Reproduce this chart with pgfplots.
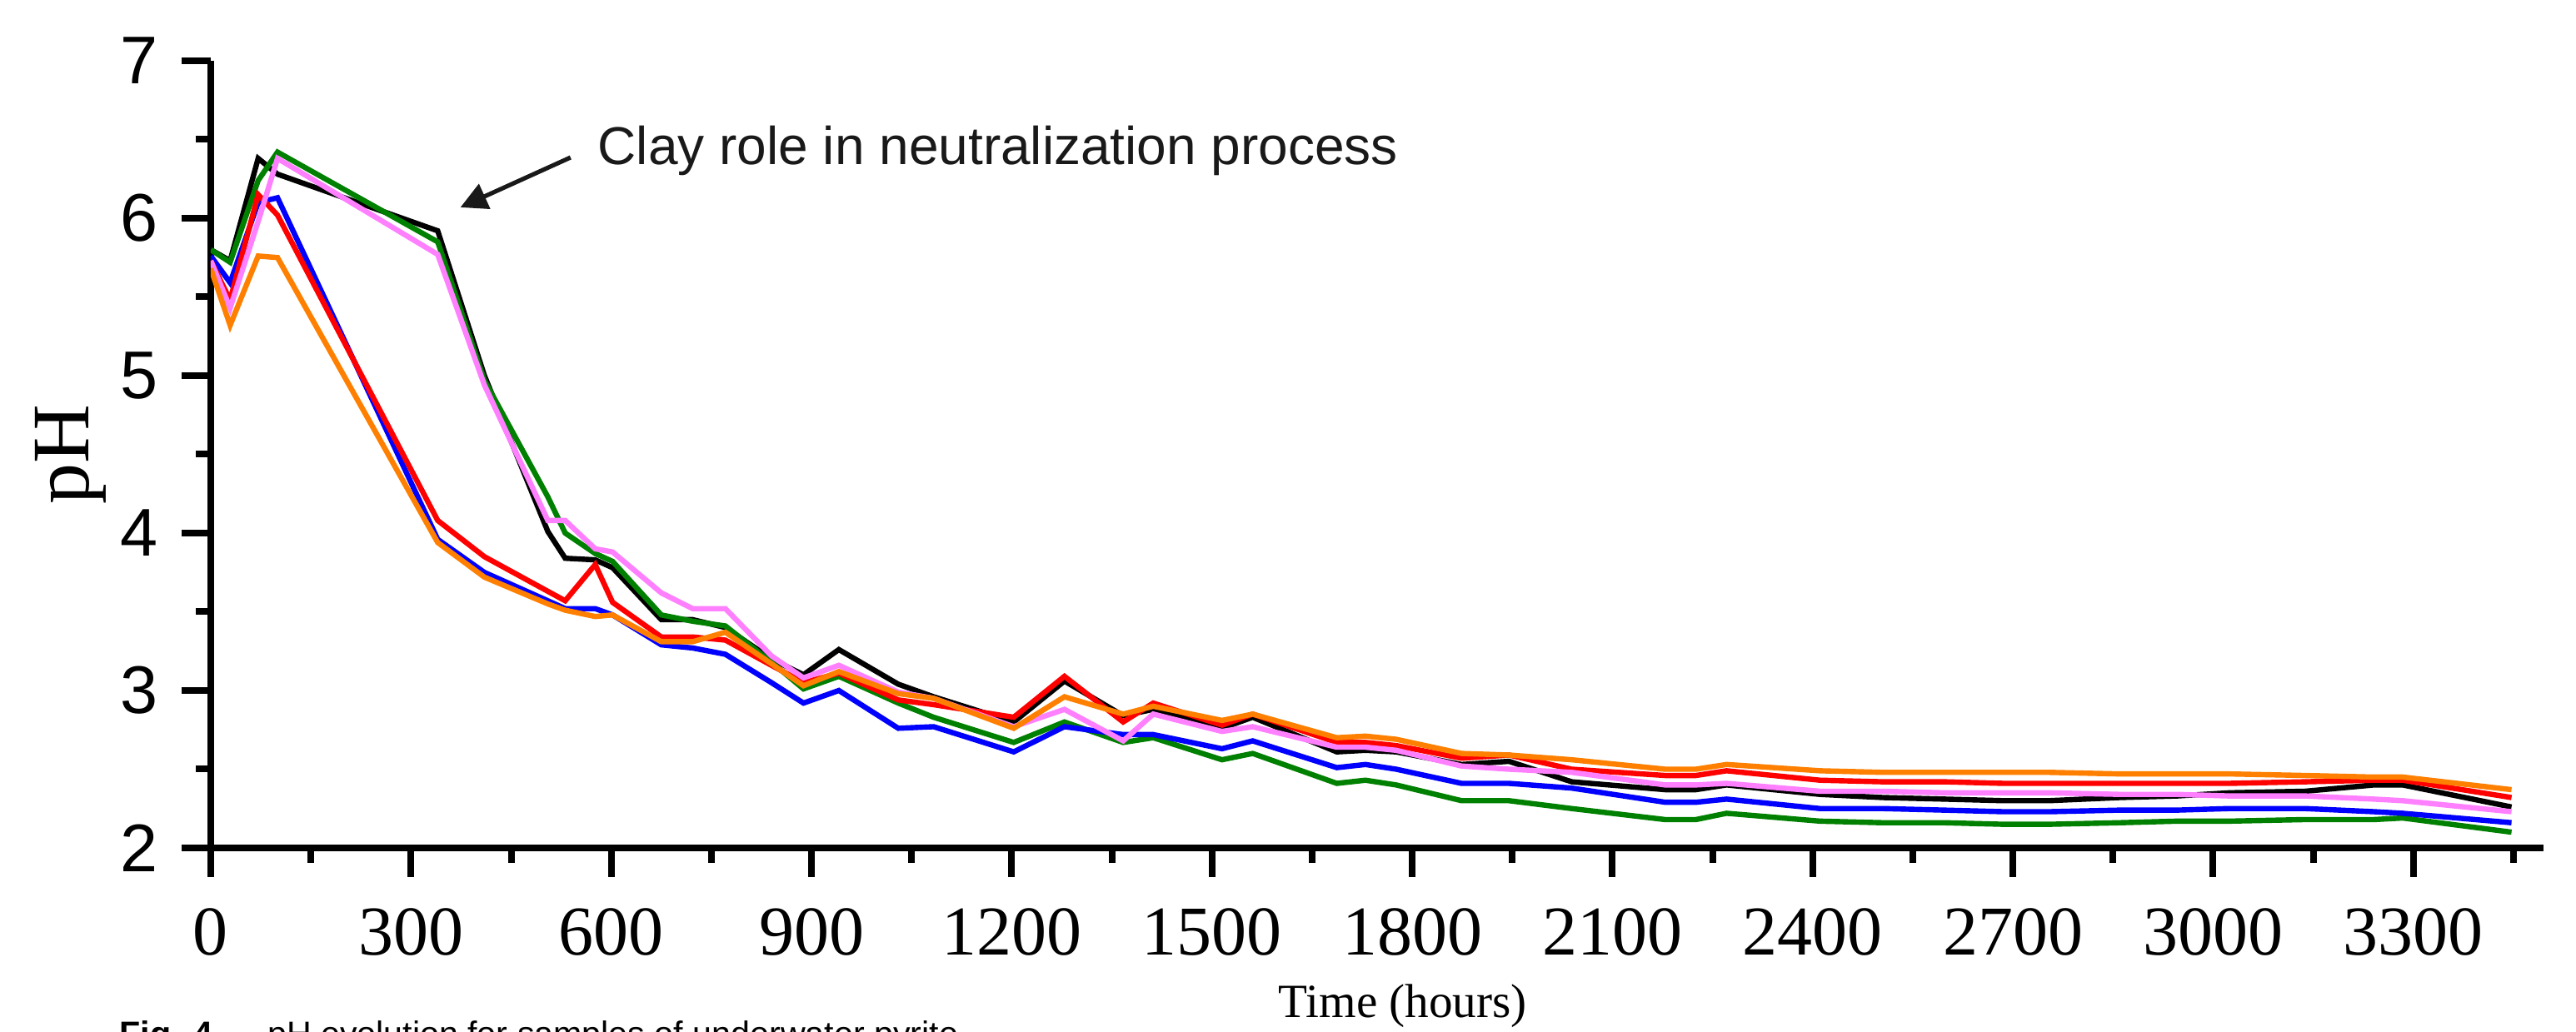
\documentclass[border=0pt]{standalone}
\usepackage{fontspec}
\setmainfont{Liberation Serif}
\newfontfamily\arial{Liberation Sans}
\usepackage{pgfplots}
\pgfplotsset{compat=1.18}
\usepackage{pgfplotstable}
\usetikzlibrary{arrows.meta}

\definecolor{cgreen}{RGB}{0,128,0}
\definecolor{cpink}{RGB}{255,128,255}
\definecolor{corange}{RGB}{255,128,0}
\definecolor{cblue}{RGB}{0,0,255}
\definecolor{cred}{RGB}{255,0,0}

\pgfplotstableread{
h black green blue red pink orange
0 5.80 5.80 5.76 5.73 5.73 5.68
29 5.73 5.72 5.59 5.48 5.43 5.32
71 6.38 6.24 6.10 6.15 5.98 5.76
100 6.28 6.42 6.13 6.02 6.38 5.75
340 5.92 5.85 3.96 4.08 5.77 3.94
410 5.00 4.97 3.75 3.85 4.94 3.72
505 4.01 4.23 3.57 3.63 4.08 3.55
531 3.84 4.00 3.52 3.57 4.08 3.51
576 3.83 3.87 3.52 3.80 3.90 3.47
602 3.78 3.82 3.48 3.56 3.88 3.48
675 3.45 3.48 3.29 3.34 3.62 3.31
722 3.45 3.44 3.27 3.34 3.52 3.31
771 3.40 3.41 3.23 3.32 3.52 3.37
840 3.20 3.18 3.05 3.16 3.22 3.17
888 3.10 3.01 2.92 3.05 3.08 3.03
941 3.26 3.09 3.00 3.11 3.16 3.12
1030 3.04 2.92 2.76 2.94 2.99 2.98
1083 2.96 2.83 2.77 2.91 2.95 2.95
1203 2.80 2.67 2.61 2.83 2.77 2.76
1279 3.06 2.80 2.77 3.09 2.88 2.96
1367 2.84 2.67 2.72 2.80 2.68 2.85
1412 2.88 2.70 2.72 2.92 2.85 2.90
1515 2.76 2.56 2.63 2.78 2.74 2.81
1561 2.83 2.60 2.68 2.85 2.77 2.85
1687 2.61 2.41 2.51 2.67 2.64 2.70
1730 2.62 2.43 2.53 2.67 2.64 2.71
1776 2.61 2.40 2.50 2.65 2.62 2.69
1874 2.53 2.30 2.41 2.57 2.52 2.60
1945 2.55 2.30 2.41 2.59 2.50 2.59
2039 2.42 2.25 2.38 2.50 2.48 2.56
2179 2.37 2.18 2.29 2.46 2.40 2.50
2225 2.37 2.18 2.29 2.46 2.40 2.50
2271 2.40 2.22 2.31 2.49 2.41 2.53
2411 2.34 2.17 2.25 2.43 2.36 2.49
2505 2.32 2.16 2.25 2.42 2.36 2.48
2597 2.31 2.16 2.24 2.42 2.35 2.48
2686 2.30 2.15 2.23 2.41 2.35 2.48
2754 2.30 2.15 2.23 2.41 2.35 2.48
2860 2.32 2.16 2.24 2.41 2.34 2.47
2946 2.33 2.17 2.24 2.41 2.34 2.47
3024 2.35 2.17 2.25 2.41 2.33 2.47
3138 2.36 2.18 2.25 2.42 2.33 2.46
3241 2.40 2.18 2.23 2.43 2.31 2.45
3284 2.40 2.19 2.22 2.43 2.30 2.45
3447 2.26 2.10 2.16 2.32 2.23 2.37
}\phdata

\begin{document}
\begin{tikzpicture}
\path[use as bounding box] (0,0) rectangle (773pt,309.75pt);
\begin{axis}[
  scale only axis,
  width=700pt, height=236.25pt,
  at={(63.25pt,55.25pt)}, anchor=south west,
  xmin=0, xmax=3495, ymin=2, ymax=7,
  axis x line*=bottom, axis y line*=left,
  axis line style={line width=2pt, black},
  xtick={0,300,...,3300},
  minor xtick={150,450,...,3450},
  ytick={2,3,4,5,6,7},
  minor ytick={2.5,3.5,4.5,5.5,6.5},
  tick align=outside,
  major tick length=8.75pt, minor tick length=4.5pt,
  tick style={line width=2pt, black},
  /pgf/number format/assume math mode=true,
  /pgf/number format/1000 sep={},
  xticklabel style={font=\fontsize{21}{21}\selectfont, anchor=base, inner sep=0pt, yshift=-23.5pt},
  yticklabel style={font=\arial\fontsize{20.25}{20.25}\selectfont, anchor=east, inner sep=0pt, xshift=-7pt},
  ylabel={pH},
  ylabel style={font=\fontsize{24.5}{24.5}\selectfont, at={(axis description cs:-0.06,0.5)}, anchor=center},
  xlabel={Time (hours)},
  xlabel style={font=\fontsize{14.3}{14.3}\selectfont, at={(axis description cs:0.511,-0.215)}, anchor=base},
  every axis plot/.append style={line width=1.6pt, line join=miter},
]
\addplot[color=black] table[x=h, y=black] {\phdata};
\addplot[color=cgreen] table[x=h, y=green] {\phdata};
\addplot[color=cblue] table[x=h, y=blue] {\phdata};
\addplot[color=cred] table[x=h, y=red] {\phdata};
\addplot[color=cpink] table[x=h, y=pink] {\phdata};
\addplot[color=corange] table[x=h, y=orange] {\phdata};

\draw[line width=1.3pt, color=black!90, -{Triangle[length=8pt,width=8pt]}]
  (axis cs:539,6.386) -- (axis cs:374,6.069);
\node[anchor=base west, inner sep=0pt, text=black!90, font=\arial\fontsize{16}{16}\selectfont]
  at (axis cs:579,6.34) {Clay role in neutralization process};
\end{axis}
\node[anchor=base west, inner sep=0pt, font=\arial\fontsize{10.3}{10.3}\selectfont]
  at (35.75pt,-4.25pt) {\textbf{Fig. 4}\hspace{1.6em}pH evolution for samples of underwater pyrite};
\end{tikzpicture}
\end{document}
